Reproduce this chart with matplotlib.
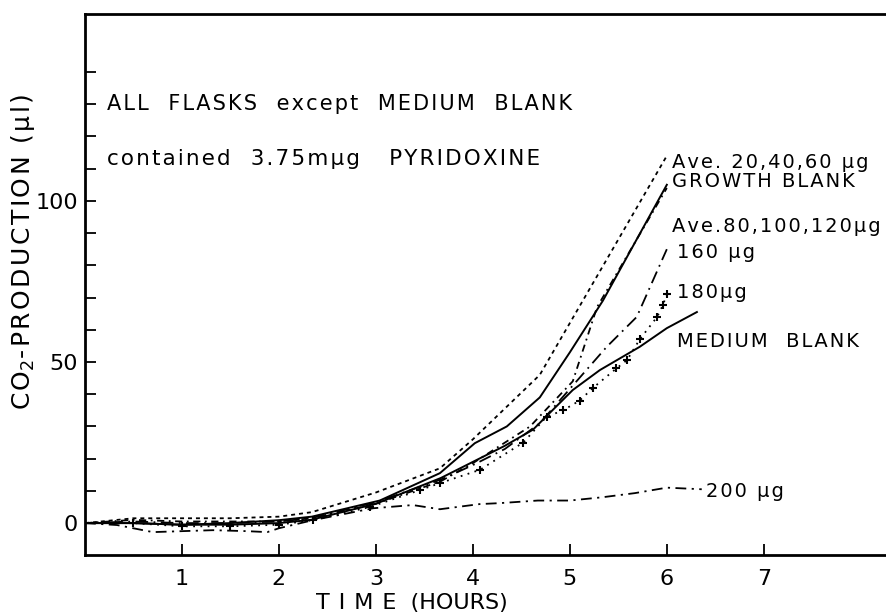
import matplotlib
matplotlib.use("Agg")
import matplotlib.pyplot as plt

# time (hours) and CO2 production (ul)
t_ave20 = [0, 0.5, 1, 1.5, 2, 2.34, 3.0, 3.66, 4.0, 4.69, 6.0]
v_ave20 = [0, 1.5, 1.5, 1.5, 2, 3.4, 9.5, 17, 26, 46, 114]

t_growth = [0, 0.5, 1, 1.5, 2, 2.34, 3.04, 3.66, 4.02, 4.35, 4.69, 5.0, 5.34, 6.0]
v_growth = [0, 0, -0.5, 0, 0.9, 2.0, 7, 15.5, 24.8, 30, 39, 53, 69, 105]

t_ave80 = [0, 0.5, 1, 1.5, 2, 2.33, 3, 3.67, 4.0, 4.59, 5.03, 5.28, 6.0]
v_ave80 = [0, 1, 0.5, 0.5, 0.5, 1.5, 6, 13, 18.6, 30, 44, 67, 104]

t_160 = [0, 0.5, 1, 1.5, 2, 2.33, 3, 3.67, 4.0, 4.33, 4.69, 5.38, 5.69, 6.0]
v_160 = [0, 0.5, 0, 0, 0.5, 1.5, 6.5, 13.5, 18, 23, 31, 54.7, 64, 85]

t_180 = [0, 0.5, 1, 1.5, 2, 2.35, 2.94, 3.45, 3.66, 4.07, 4.52, 4.76, 4.93,
         5.1, 5.24, 5.48, 5.59, 5.72, 5.9, 5.96, 6.0]
v_180 = [0, 0, -1, -1, -0.5, 0.9, 5, 10.2, 12.4, 16.5, 25, 33, 35,
         38, 42, 48, 50.6, 57, 64, 67.7, 71]

t_medium = [0, 0.5, 1, 1.5, 2, 2.33, 3, 3.67, 4.0, 4.33, 4.62, 5.03, 5.31, 5.72, 6.0, 6.31]
v_medium = [0, 0, -0.5, -0.5, 0, 1, 6, 14, 19, 24, 29, 41.3, 47.5, 54.7, 60.5, 65.5]

t_200 = [0, 0.33, 0.7, 1.0, 1.32, 1.67, 1.88, 2.0, 2.35, 2.97, 3.38, 3.66, 4.07,
         4.28, 4.67, 5.0, 5.33, 5.67, 6.0, 6.36]
v_200 = [0, -0.6, -2.8, -2.5, -2.2, -2.5, -2.8, -1.6, 0.9, 4.6, 5.6, 4.3, 5.9,
         6.2, 7, 7, 8, 9.3, 11, 10.5]

curve_labels = ["Ave. 20,40,60 µg", "GROWTH BLANK", "Ave.80,100,120µg",
                "160 µg", "180µg", "MEDIUM  BLANK", "200 µg"]
label_t = [6.05, 6.05, 6.05, 6.1, 6.1, 6.1, 6.4]
label_v = [112, 106, 92, 84, 71.5, 56.5, 9.8]


def spaced(s, gap="\u200a"):
    # old stencil lettering is spread out, add hair spaces between letters
    return gap.join(s)


plt.rcParams["font.family"] = ["DejaVu Sans"]

fig = plt.figure(figsize=(8.86, 6.14), dpi=100)
ax = fig.add_axes([0.0959, 0.0961, 0.9041, 0.8811])

k = "black"
ax.plot(t_ave20, v_ave20, color=k, lw=1.3, linestyle=(0, (2.2, 2.2)))
ax.plot(t_growth, v_growth, color=k, lw=1.4, linestyle="-")
ax.plot(t_ave80, v_ave80, color=k, lw=1.3, linestyle=(0, (4, 2.5, 1, 2.5)))
ax.plot(t_160, v_160, color=k, lw=1.3, linestyle=(0, (7, 3, 1, 3)))
ax.plot(t_180, v_180, color=k, lw=1.3, linestyle=(0, (1, 3)),
        marker="+", markersize=6, markeredgewidth=1.5)
ax.plot(t_medium, v_medium, color=k, lw=1.4, linestyle="-")
ax.plot(t_200, v_200, color=k, lw=1.3, linestyle=(0, (6, 3, 1.2, 3)))

for lab, tx, vy in zip(curve_labels, label_t, label_v):
    ax.text(tx, vy, spaced(lab), fontsize=14, va="center", ha="left")

ax.text(0.23, 130, spaced("ALL  FLASKS  except  MEDIUM  BLANK"), fontsize=15, va="center")
ax.text(0.23, 113, spaced("contained  3.75mµg   PYRIDOXINE"), fontsize=15.5, va="center")

ax.set_xlim(0, 8.26)
ax.set_ylim(-9.9, 158)
ax.set_xticks([1, 2, 3, 4, 5, 6, 7])
yt = list(range(0, 150, 10))
ax.set_yticks(yt)
ax.set_yticklabels([str(v) if v in (0, 50, 100) else "" for v in yt])
ax.tick_params(direction="in", length=8, width=1.3, labelsize=16)
ax.tick_params(axis="x", pad=10)
ax.tick_params(axis="y", pad=5)

for s in ["left", "bottom", "top"]:
    ax.spines[s].set_linewidth(2)
ax.spines["right"].set_visible(False)

ax.set_xlabel(spaced("TIME", "\u2009\u2009") + "  (HOURS)", fontsize=16, va="center")
ax.xaxis.set_label_coords(0.408, -0.088)
ax.set_ylabel(spaced("CO") + "$_2$" + spaced("-PRODUCTION (µl)"), fontsize=18, va="center")
ax.yaxis.set_label_coords(-0.077, 0.56)

fig.savefig("out.png", dpi=100)
